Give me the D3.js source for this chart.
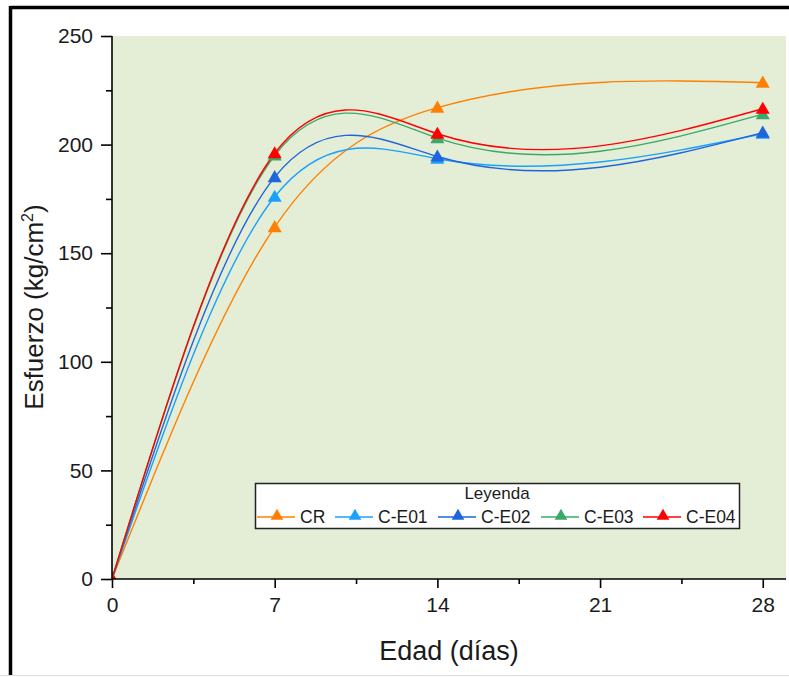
<!DOCTYPE html>
<html><head><meta charset="utf-8">
<script src="https://cdn.jsdelivr.net/npm/d3@7"></script>
<style>
html,body{margin:0;padding:0;background:#fff;}
svg{display:block;font-family:"Liberation Sans",Arial,sans-serif;}
</style></head>
<body><svg id="chart" width="789" height="677"></svg>
<script>
// ---- data ----
const days = [0, 7, 14, 28];
const seriesNames = ["CR", "C-E01", "C-E02", "C-E03", "C-E04"];
const crValues   = [0, 162, 217, 228.5];
const ce01Values = [0, 176, 193.5, 205];
const ce02Values = [0, 185, 194.5, 205.5];
const ce03Values = [0, 195, 203, 214];
const ce04Values = [0, 196, 205, 216.5];
const seriesColors = ["#ff8000", "#1aa0ff", "#1f66dd", "#3aaa6a", "#ff0000"];
const xTicks = [0, 7, 14, 21, 28];
const xMinorTicks = [3.5, 10.5, 17.5, 24.5];
const yTicks = [0, 50, 100, 150, 200, 250];
const yMinorTicks = [25, 75, 125, 175, 225];
const xTitle = "Edad (días)";
const yTitleMain = "Esfuerzo (kg/cm";
const legendTitle = "Leyenda";

const allValues = [crValues, ce01Values, ce02Values, ce03Values, ce04Values];

// ---- natural cubic spline curve (y as function of x) ----
function CurveNaturalX(context){ this._context = context; }
CurveNaturalX.prototype = {
  areaStart(){ this._line = 0; }, areaEnd(){ this._line = NaN; },
  lineStart(){ this._x = []; this._y = []; },
  point(x, y){ this._x.push(+x); this._y.push(+y); },
  lineEnd(){
    const X = this._x, Y = this._y, n = X.length, c = this._context;
    if (!n) return;
    c.moveTo(X[0], Y[0]);
    if (n === 2){ c.lineTo(X[1], Y[1]); return; }
    const h = [];
    for (let i = 0; i < n - 1; i++) h.push(X[i+1] - X[i]);
    const m = n - 2, a = [], b = [], cc = [], d = [];
    for (let i = 1; i <= m; i++){
      a.push(h[i-1]); b.push(2*(h[i-1]+h[i])); cc.push(h[i]);
      d.push(6*((Y[i+1]-Y[i])/h[i] - (Y[i]-Y[i-1])/h[i-1]));
    }
    for (let i = 1; i < m; i++){
      const w = a[i]/b[i-1];
      b[i] -= w*cc[i-1]; d[i] -= w*d[i-1];
    }
    const Mi = new Array(m);
    Mi[m-1] = d[m-1]/b[m-1];
    for (let i = m-2; i >= 0; i--) Mi[i] = (d[i] - cc[i]*Mi[i+1])/b[i];
    const M = [0, ...Mi, 0];
    for (let i = 0; i < n - 1; i++){
      const hi = h[i];
      const s0 = (Y[i+1]-Y[i])/hi - hi*(2*M[i] + M[i+1])/6;
      const s1 = (Y[i+1]-Y[i])/hi + hi*(M[i] + 2*M[i+1])/6;
      c.bezierCurveTo(X[i]+hi/3, Y[i]+s0*hi/3, X[i+1]-hi/3, Y[i+1]-s1*hi/3, X[i+1], Y[i+1]);
    }
  }
};
const curveNaturalX = ctx => new CurveNaturalX(ctx);

// ---- layout ----
const svg = d3.select("#chart");
const L = 112, R = 786, T = 36, B = 579;
const x = d3.scaleLinear().domain([0, 29]).range([L, R]);
const y = d3.scaleLinear().domain([0, 250]).range([B, T]);

// outer frame
svg.append("line").attr("x1", 0).attr("x2", 789).attr("y1", 675.5).attr("y2", 675.5).attr("stroke", "#dcdcdc").attr("stroke-width", 1);
svg.append("line").attr("x1", 10.5).attr("x2", 789).attr("y1", 7.5).attr("y2", 7.5).attr("stroke", "#000").attr("stroke-width", 3.5);
svg.append("line").attr("x1", 10.5).attr("x2", 10.5).attr("y1", 6).attr("y2", 675).attr("stroke", "#000").attr("stroke-width", 3.5);

// plot background
svg.append("rect").attr("x", L).attr("y", T).attr("width", R - L).attr("height", B - T).attr("fill", "#e4edd6");

svg.append("defs").append("clipPath").attr("id", "clip")
  .append("rect").attr("x", L).attr("y", T).attr("width", R - L).attr("height", B - T);

const plot = svg.append("g").attr("clip-path", "url(#clip)");
const line = d3.line().x((d, i) => x(days[i])).y(d => y(d)).curve(curveNaturalX);
const tri = d3.symbol().type(d3.symbolTriangle).size(85);

allValues.forEach((vals, k) => {
  plot.append("path").attr("d", line(vals)).attr("fill", "none")
    .attr("stroke", seriesColors[k]).attr("stroke-width", 1.4);
});
allValues.forEach((vals, k) => {
  plot.selectAll(null).data(vals).enter().append("path")
    .attr("d", tri)
    .attr("transform", (d, i) => `translate(${x(days[i])},${y(d) + 1})`)
    .attr("fill", seriesColors[k]);
});

// axes
const textColor = "#1b1b1b";
const yAxis = svg.append("g").attr("transform", `translate(${L},0)`)
  .call(d3.axisLeft(y).tickValues(yTicks).tickSize(11).tickPadding(8).tickFormat(d3.format("d")));
svg.append("g").attr("transform", `translate(${L},0)`)
  .call(d3.axisLeft(y).tickValues(yMinorTicks).tickSize(6).tickFormat(""))
  .call(g => g.select(".domain").remove());
const xAxis = svg.append("g").attr("transform", `translate(0,${B})`)
  .call(d3.axisBottom(x).tickValues(xTicks).tickSize(9).tickPadding(9).tickFormat(d3.format("d")));
svg.append("g").attr("transform", `translate(0,${B})`)
  .call(d3.axisBottom(x).tickValues(xMinorTicks).tickSize(5).tickFormat(""))
  .call(g => g.select(".domain").remove());

svg.selectAll(".domain").attr("stroke", "#000").attr("stroke-width", 1.6);
svg.selectAll(".tick line").attr("stroke", "#000").attr("stroke-width", 1.6);
svg.selectAll(".tick text").attr("font-family", "'Liberation Sans', Arial, sans-serif")
  .attr("font-size", 21).attr("fill", textColor);
yAxis.select(".domain").attr("d", `M0,${B}V${T}`);
xAxis.select(".domain").attr("d", `M${L},0H${R}`);

// axis titles
svg.append("text").attr("x", 449).attr("y", 660).attr("text-anchor", "middle")
  .attr("font-size", 27).attr("fill", textColor).text(xTitle);
const yt = svg.append("text").attr("transform", "translate(43,307) rotate(-90)")
  .attr("text-anchor", "middle").attr("font-size", 26).attr("fill", textColor);
yt.append("tspan").text(yTitleMain);
yt.append("tspan").attr("font-size", 16).attr("dy", -10).text("2");
yt.append("tspan").attr("dy", 10).text(")");

// legend
const lg = svg.append("g");
lg.append("rect").attr("x", 255.5).attr("y", 483.5).attr("width", 484).attr("height", 45)
  .attr("fill", "#fff").attr("stroke", "#222").attr("stroke-width", 1.5);
lg.append("text").attr("x", 497).attr("y", 499).attr("text-anchor", "middle")
  .attr("font-size", 17).attr("fill", textColor).text(legendTitle);
const legendX = [257, 335, 438, 541, 643];
const triSmall = d3.symbol().type(d3.symbolTriangle).size(70);
seriesNames.forEach((name, k) => {
  const x0 = legendX[k], yy = 517;
  lg.append("line").attr("x1", x0).attr("x2", x0 + 38).attr("y1", yy).attr("y2", yy)
    .attr("stroke", seriesColors[k]).attr("stroke-width", 1.5);
  lg.append("path").attr("d", triSmall).attr("transform", `translate(${x0 + 20},${yy - 1})`)
    .attr("fill", seriesColors[k]);
  lg.append("text").attr("x", x0 + 43).attr("y", yy + 6).attr("font-size", 17.5)
    .attr("fill", textColor).text(name);
});
</script></body></html>
